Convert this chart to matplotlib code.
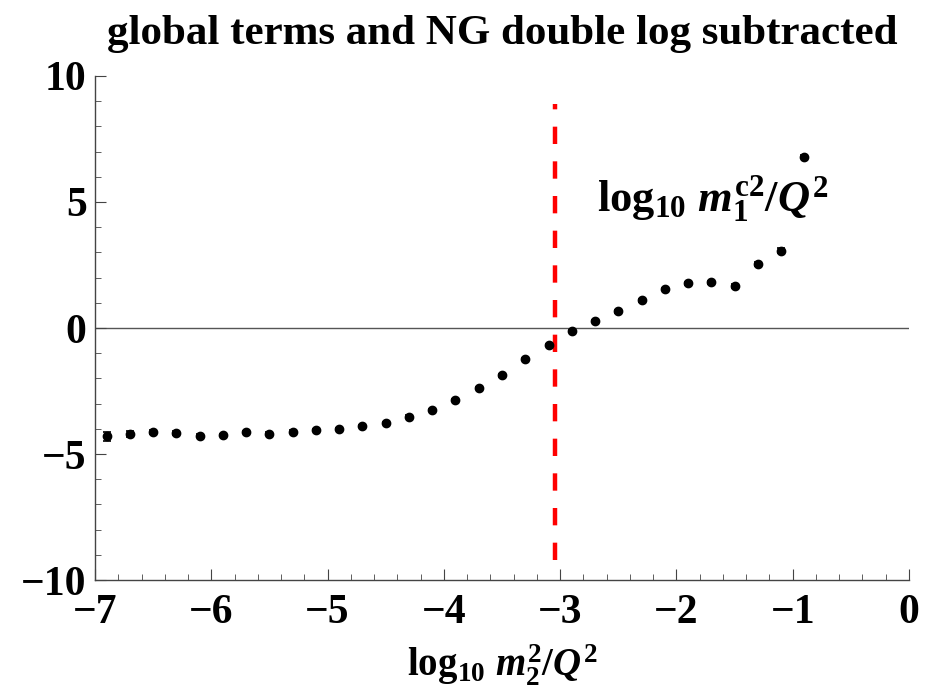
import numpy as np
import matplotlib.pyplot as plt
from matplotlib.ticker import MultipleLocator

# bold serif everywhere, math in bold italic
plt.rcParams['font.family'] = 'Liberation Serif'
plt.rcParams['font.weight'] = 'bold'
plt.rcParams['mathtext.fontset'] = 'custom'
plt.rcParams['mathtext.rm'] = 'Liberation Serif:bold'
plt.rcParams['mathtext.bf'] = 'Liberation Serif:bold'
plt.rcParams['mathtext.it'] = 'Liberation Serif:bold:italic'

# log10 m2^2/Q^2 sample points and the subtracted result
logm2 = [-6.9, -6.7, -6.5, -6.3, -6.1, -5.9, -5.7, -5.5, -5.3, -5.1, -4.9,
         -4.7, -4.5, -4.3, -4.1, -3.9, -3.7, -3.5, -3.3, -3.1, -2.9, -2.7,
         -2.5, -2.3, -2.1, -1.9, -1.7, -1.5, -1.3, -1.1, -0.9]
vals = [-4.29, -4.19, -4.13, -4.18, -4.27, -4.25, -4.12, -4.19, -4.11, -4.05, -4.00,
        -3.89, -3.76, -3.52, -3.25, -2.86, -2.39, -1.88, -1.23, -0.67, -0.12, 0.27,
        0.66, 1.10, 1.54, 1.77, 1.81, 1.67, 2.53, 3.07, 6.80]
errs = [0.18, 0.12, 0.08, 0.08, 0.05, 0.05, 0.05, 0.05, 0.05, 0.05, 0.05,
        0.05, 0.05, 0.05, 0.05, 0.05, 0.05, 0.05, 0.05, 0.05, 0.05, 0.05,
        0.05, 0.05, 0.05, 0.05, 0.05, 0.08, 0.08, 0.10, 0.05]

# position of the m1 cut
m1cut = -3.04

fig = plt.figure(figsize=(9.25, 6.99), dpi=100)
ax = fig.add_axes([0.1027, 0.1702, 0.88, 0.7211])

ax.axhline(0, color='#555555', lw=1.0, zorder=1)
ax.errorbar(logm2, vals, yerr=errs, fmt='o', color='black', ms=6.0,
            ecolor='black', elinewidth=1.2, capsize=3, capthick=1.2, zorder=3)
ax.plot([m1cut, m1cut], [-9.2, 8.9], color='red', lw=3.2,
        dashes=(3.9, 3.9), zorder=2)

ax.text(-2.68, 5.1, r'$\mathrm{log}_{10}\ m_1^{\mathrm{c}2}/Q^2$',
        fontsize=32, ha='left', va='center')

ax.set_xlim(-7, 0)
ax.set_ylim(-10, 10)
ax.xaxis.set_major_locator(MultipleLocator(1))
ax.xaxis.set_minor_locator(MultipleLocator(0.2))
ax.yaxis.set_major_locator(MultipleLocator(5))
ax.yaxis.set_minor_locator(MultipleLocator(1))

for side in ['top', 'right']:
    ax.spines[side].set_visible(False)
for side in ['left', 'bottom']:
    ax.spines[side].set_color('#444444')
    ax.spines[side].set_linewidth(1.0)

ax.tick_params(which='major', direction='in', length=8, width=0.8,
               color='#444444', labelsize=30)
ax.tick_params(which='minor', direction='in', length=4.5, width=0.6,
               color='#444444')
ax.tick_params(axis='x', pad=10)
ax.tick_params(axis='y', pad=6)
for lab in ax.get_xticklabels() + ax.get_yticklabels():
    lab.set_fontweight('bold')

ax.set_xlabel(r'$\mathrm{log}_{10}\ m_2^2/Q^2$', fontsize=28, labelpad=8)
ax.set_title('global terms and NG double log subtracted', fontsize=31,
             fontweight='bold', pad=23)

fig.savefig('out.png', dpi=100)
